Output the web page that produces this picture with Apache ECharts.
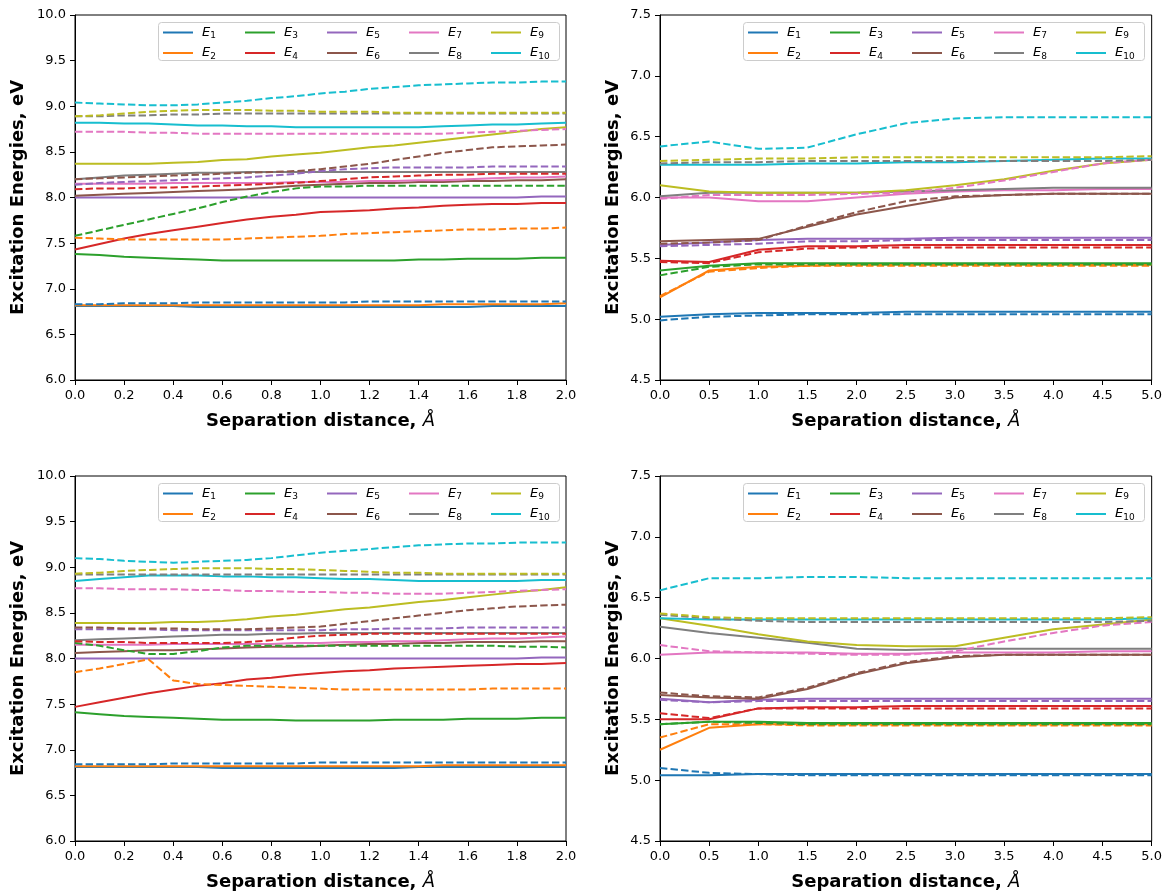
<!DOCTYPE html>
<html>
<head>
<meta charset="utf-8">
<script src="https://cdn.jsdelivr.net/npm/echarts@6/dist/echarts.min.js"></script>
<style>html,body{margin:0;padding:0;background:#fff}#c{width:1165px;height:892px}</style>
</head>
<body>
<div id="c"></div>
<script>
const xLeft = [0.0,0.1,0.2,0.3,0.4,0.5,0.6,0.7,0.8,0.9,1.0,1.1,1.2,1.3,1.4,1.5,1.6,1.7,1.8,1.9,2.0];
const xRight = [0.0,0.5,1.0,1.5,2.0,2.5,3.0,3.5,4.0,4.5,5.0];
const names = ['E1','E2','E3','E4','E5','E6','E7','E8','E9','E10'];
const yTicksLeft = [6.0,10.0,0.5];
const yTicksRight = [4.5,7.5,0.5];

const tlSolid = [
 [6.81,6.81,6.81,6.81,6.81,6.80,6.80,6.80,6.80,6.80,6.80,6.80,6.80,6.80,6.80,6.80,6.80,6.81,6.81,6.81,6.81],
 [6.82,6.82,6.82,6.82,6.82,6.82,6.82,6.82,6.82,6.82,6.82,6.82,6.82,6.82,6.82,6.83,6.83,6.83,6.83,6.83,6.84],
 [7.38,7.37,7.35,7.34,7.33,7.32,7.31,7.31,7.31,7.31,7.31,7.31,7.31,7.31,7.32,7.32,7.33,7.33,7.33,7.34,7.34],
 [7.43,7.49,7.55,7.60,7.64,7.68,7.72,7.76,7.79,7.81,7.84,7.85,7.86,7.88,7.89,7.91,7.92,7.93,7.93,7.94,7.94],
 [8.00,8.00,8.00,8.00,8.00,8.00,8.00,8.00,8.00,8.00,8.00,8.00,8.00,8.00,8.00,8.00,8.00,8.00,8.00,8.01,8.01],
 [8.02,8.03,8.04,8.05,8.06,8.07,8.08,8.09,8.11,8.13,8.14,8.15,8.16,8.16,8.17,8.17,8.18,8.18,8.19,8.19,8.20],
 [8.15,8.15,8.15,8.15,8.16,8.16,8.16,8.16,8.16,8.17,8.17,8.17,8.18,8.18,8.19,8.19,8.20,8.21,8.22,8.22,8.23],
 [8.20,8.22,8.24,8.25,8.26,8.27,8.27,8.28,8.28,8.28,8.28,8.28,8.28,8.28,8.28,8.28,8.28,8.28,8.28,8.28,8.28],
 [8.37,8.37,8.37,8.37,8.38,8.39,8.41,8.42,8.45,8.47,8.49,8.52,8.55,8.57,8.60,8.63,8.66,8.69,8.72,8.75,8.77],
 [8.82,8.82,8.81,8.81,8.80,8.79,8.79,8.78,8.78,8.77,8.77,8.77,8.77,8.77,8.77,8.78,8.79,8.80,8.80,8.81,8.82]
];
const tlDashed = [
 [6.83,6.83,6.84,6.84,6.84,6.85,6.85,6.85,6.85,6.85,6.85,6.85,6.86,6.86,6.86,6.86,6.86,6.86,6.86,6.86,6.86],
 [7.56,7.55,7.54,7.54,7.54,7.54,7.54,7.55,7.56,7.57,7.58,7.60,7.61,7.62,7.63,7.64,7.65,7.65,7.66,7.66,7.67],
 [7.58,7.64,7.70,7.76,7.82,7.88,7.95,8.01,8.06,8.10,8.12,8.12,8.13,8.13,8.13,8.13,8.13,8.13,8.13,8.13,8.13],
 [8.09,8.10,8.10,8.11,8.11,8.12,8.13,8.14,8.15,8.16,8.18,8.20,8.22,8.23,8.24,8.25,8.25,8.26,8.26,8.26,8.26],
 [8.14,8.16,8.17,8.18,8.19,8.20,8.21,8.22,8.24,8.26,8.29,8.31,8.32,8.33,8.33,8.33,8.33,8.34,8.34,8.34,8.34],
 [8.20,8.21,8.22,8.23,8.24,8.25,8.26,8.27,8.28,8.29,8.31,8.34,8.37,8.41,8.45,8.49,8.52,8.55,8.56,8.57,8.58],
 [8.72,8.72,8.72,8.71,8.71,8.70,8.70,8.70,8.70,8.70,8.70,8.70,8.70,8.70,8.70,8.70,8.71,8.72,8.73,8.74,8.75],
 [8.89,8.89,8.90,8.90,8.91,8.91,8.92,8.92,8.92,8.92,8.92,8.92,8.92,8.92,8.92,8.92,8.92,8.92,8.92,8.92,8.92],
 [8.89,8.90,8.92,8.94,8.95,8.96,8.96,8.96,8.95,8.95,8.94,8.94,8.94,8.93,8.93,8.93,8.93,8.93,8.93,8.93,8.93],
 [9.04,9.03,9.02,9.01,9.01,9.02,9.04,9.06,9.09,9.11,9.14,9.16,9.19,9.21,9.23,9.24,9.25,9.26,9.26,9.27,9.27]
];
const trSolid = [
 [5.02,5.04,5.05,5.05,5.05,5.06,5.06,5.06,5.06,5.06,5.06],
 [5.18,5.40,5.43,5.44,5.45,5.45,5.45,5.45,5.45,5.45,5.45],
 [5.40,5.44,5.46,5.46,5.46,5.46,5.46,5.46,5.46,5.46,5.46],
 [5.48,5.47,5.57,5.60,5.60,5.61,5.61,5.61,5.61,5.61,5.61],
 [5.61,5.63,5.65,5.66,5.66,5.66,5.67,5.67,5.67,5.67,5.67],
 [5.64,5.65,5.66,5.76,5.86,5.93,6.00,6.02,6.03,6.03,6.03],
 [6.00,6.00,5.97,5.97,6.00,6.03,6.05,6.06,6.06,6.07,6.07],
 [6.01,6.04,6.04,6.04,6.04,6.05,6.06,6.07,6.08,6.08,6.08],
 [6.10,6.05,6.04,6.04,6.04,6.06,6.10,6.15,6.22,6.28,6.31],
 [6.27,6.27,6.27,6.28,6.28,6.29,6.29,6.30,6.31,6.32,6.32]
];
const trDashed = [
 [4.99,5.02,5.03,5.04,5.04,5.04,5.04,5.04,5.04,5.04,5.04],
 [5.19,5.39,5.42,5.44,5.44,5.44,5.44,5.44,5.44,5.44,5.44],
 [5.36,5.43,5.45,5.45,5.45,5.45,5.45,5.45,5.45,5.45,5.45],
 [5.47,5.46,5.55,5.58,5.59,5.59,5.59,5.59,5.59,5.59,5.59],
 [5.60,5.61,5.62,5.64,5.64,5.65,5.65,5.65,5.65,5.65,5.65],
 [5.62,5.63,5.65,5.77,5.88,5.97,6.01,6.02,6.03,6.03,6.03],
 [5.99,6.02,6.02,6.02,6.03,6.04,6.08,6.14,6.21,6.28,6.31],
 [6.28,6.29,6.29,6.30,6.30,6.30,6.30,6.30,6.30,6.30,6.31],
 [6.30,6.31,6.32,6.32,6.33,6.33,6.33,6.33,6.33,6.33,6.34],
 [6.42,6.46,6.40,6.41,6.52,6.61,6.65,6.66,6.66,6.66,6.66]
];
const blSolid = [
 [6.81,6.81,6.81,6.81,6.81,6.81,6.80,6.80,6.80,6.80,6.80,6.80,6.80,6.80,6.81,6.81,6.81,6.81,6.81,6.81,6.81],
 [6.82,6.82,6.82,6.82,6.82,6.82,6.82,6.82,6.82,6.82,6.82,6.82,6.82,6.82,6.82,6.83,6.83,6.83,6.83,6.83,6.83],
 [7.41,7.39,7.37,7.36,7.35,7.34,7.33,7.33,7.33,7.32,7.32,7.32,7.32,7.33,7.33,7.33,7.34,7.34,7.34,7.35,7.35],
 [7.47,7.52,7.57,7.62,7.66,7.70,7.73,7.77,7.79,7.82,7.84,7.86,7.87,7.89,7.90,7.91,7.92,7.93,7.94,7.94,7.95],
 [8.00,8.00,8.00,8.00,8.00,8.00,8.00,8.00,8.00,8.00,8.00,8.00,8.00,8.00,8.00,8.00,8.00,8.00,8.00,8.01,8.01],
 [8.06,8.07,8.08,8.09,8.09,8.10,8.11,8.12,8.13,8.13,8.14,8.15,8.16,8.16,8.17,8.17,8.18,8.18,8.18,8.19,8.19],
 [8.15,8.15,8.15,8.15,8.16,8.16,8.16,8.16,8.16,8.17,8.17,8.18,8.18,8.19,8.19,8.20,8.21,8.22,8.22,8.23,8.24],
 [8.20,8.21,8.22,8.23,8.24,8.25,8.26,8.26,8.27,8.27,8.28,8.28,8.28,8.28,8.28,8.28,8.28,8.28,8.28,8.28,8.28],
 [8.39,8.39,8.39,8.39,8.40,8.40,8.41,8.43,8.46,8.48,8.51,8.54,8.56,8.59,8.62,8.64,8.67,8.70,8.73,8.75,8.78],
 [8.85,8.87,8.89,8.91,8.91,8.91,8.90,8.90,8.89,8.89,8.88,8.87,8.87,8.86,8.85,8.85,8.85,8.85,8.85,8.86,8.86]
];
const blDashed = [
 [6.84,6.84,6.84,6.84,6.85,6.85,6.85,6.85,6.85,6.85,6.86,6.86,6.86,6.86,6.86,6.86,6.86,6.86,6.86,6.86,6.86],
 [7.85,7.89,7.94,7.99,7.76,7.72,7.71,7.70,7.69,7.68,7.67,7.66,7.66,7.66,7.66,7.66,7.66,7.67,7.67,7.67,7.67],
 [8.17,8.14,8.09,8.05,8.05,8.08,8.12,8.14,8.14,8.14,8.14,8.14,8.14,8.14,8.14,8.14,8.14,8.14,8.13,8.13,8.12],
 [8.19,8.18,8.18,8.17,8.17,8.17,8.17,8.18,8.20,8.23,8.25,8.26,8.27,8.27,8.27,8.27,8.27,8.27,8.27,8.27,8.27],
 [8.32,8.32,8.32,8.32,8.31,8.31,8.31,8.31,8.31,8.31,8.31,8.32,8.32,8.33,8.33,8.33,8.34,8.34,8.34,8.34,8.34],
 [8.34,8.34,8.33,8.33,8.33,8.32,8.32,8.32,8.33,8.34,8.35,8.38,8.41,8.44,8.47,8.50,8.53,8.55,8.57,8.58,8.59],
 [8.77,8.77,8.76,8.76,8.76,8.75,8.75,8.74,8.74,8.73,8.73,8.72,8.72,8.71,8.71,8.71,8.72,8.73,8.74,8.75,8.76],
 [8.92,8.92,8.92,8.92,8.92,8.92,8.92,8.92,8.92,8.92,8.92,8.92,8.92,8.92,8.92,8.92,8.92,8.92,8.92,8.92,8.92],
 [8.93,8.94,8.96,8.97,8.98,8.99,8.99,8.99,8.98,8.98,8.97,8.96,8.95,8.94,8.94,8.93,8.93,8.93,8.93,8.93,8.93],
 [9.10,9.09,9.07,9.06,9.05,9.06,9.07,9.08,9.10,9.13,9.16,9.18,9.20,9.22,9.24,9.25,9.26,9.26,9.27,9.27,9.27]
];
const brSolid = [
 [5.04,5.04,5.05,5.05,5.05,5.05,5.05,5.05,5.05,5.05,5.05],
 [5.25,5.43,5.46,5.46,5.46,5.46,5.46,5.46,5.46,5.46,5.46],
 [5.46,5.48,5.48,5.47,5.47,5.47,5.47,5.47,5.47,5.47,5.47],
 [5.50,5.50,5.59,5.60,5.60,5.61,5.61,5.61,5.61,5.61,5.61],
 [5.67,5.64,5.66,5.67,5.67,5.67,5.67,5.67,5.67,5.67,5.67],
 [5.70,5.68,5.67,5.75,5.87,5.96,6.01,6.03,6.03,6.03,6.03],
 [6.03,6.05,6.05,6.05,6.04,6.04,6.05,6.05,6.05,6.06,6.06],
 [6.26,6.21,6.17,6.13,6.08,6.07,6.08,6.08,6.08,6.08,6.08],
 [6.33,6.27,6.20,6.14,6.11,6.10,6.10,6.17,6.24,6.28,6.32],
 [6.33,6.32,6.32,6.32,6.32,6.32,6.32,6.32,6.32,6.32,6.33]
];
const brDashed = [
 [5.10,5.06,5.05,5.04,5.04,5.04,5.04,5.04,5.04,5.04,5.04],
 [5.35,5.46,5.46,5.45,5.45,5.45,5.45,5.45,5.45,5.45,5.45],
 [5.46,5.48,5.47,5.46,5.46,5.46,5.46,5.46,5.46,5.46,5.46],
 [5.55,5.51,5.59,5.59,5.59,5.59,5.59,5.59,5.59,5.59,5.59],
 [5.66,5.64,5.65,5.65,5.65,5.65,5.65,5.65,5.65,5.65,5.65],
 [5.72,5.69,5.68,5.76,5.88,5.97,6.02,6.03,6.03,6.03,6.03],
 [6.11,6.06,6.05,6.04,6.03,6.03,6.06,6.14,6.21,6.27,6.30],
 [6.36,6.33,6.31,6.30,6.30,6.30,6.30,6.30,6.30,6.30,6.31],
 [6.37,6.34,6.33,6.33,6.33,6.33,6.33,6.33,6.33,6.33,6.34],
 [6.56,6.66,6.66,6.67,6.67,6.66,6.66,6.66,6.66,6.66,6.66]
];

const colors = ['#1f77b4','#ff7f0e','#2ca02c','#d62728','#9467bd','#8c564b','#e377c2','#7f7f7f','#bcbd22','#17becf'];
const FONT = 'DejaVu Sans';

const panels = [
  {grid:{left:75, top:15, width:491, height:365}, x:xLeft, xmax:2, xint:0.2, y:yTicksLeft, solid:tlSolid, dashed:tlDashed, ygap:48},
  {grid:{left:660, top:15, width:493, height:365}, x:xRight, xmax:5, xint:0.5, y:yTicksRight, solid:trSolid, dashed:trDashed, ygap:38},
  {grid:{left:75, top:476, width:491, height:365}, x:xLeft, xmax:2, xint:0.2, y:yTicksLeft, solid:blSolid, dashed:blDashed, ygap:48},
  {grid:{left:660, top:476, width:493, height:365}, x:xRight, xmax:5, xint:0.5, y:yTicksRight, solid:brSolid, dashed:brDashed, ygap:38}
];

const grids = [], xAxes = [], yAxes = [], series = [], legends = [], graphics = [];
panels.forEach((p, pi) => {
  grids.push(Object.assign({show:true, borderColor:'#000', borderWidth:1, backgroundColor:'transparent'}, p.grid));
  xAxes.push({
    type:'value', gridIndex:pi, min:0, max:p.xmax, interval:p.xint,
    axisLine:{show:true, onZero:false, lineStyle:{color:'#000', width:1}},
    axisTick:{show:true, length:5, lineStyle:{color:'#000'}},
    splitLine:{show:false},
    axisLabel:{color:'#000', fontFamily:FONT, fontSize:13, margin:9, formatter:v=>v.toFixed(1)},
    name:'{n|Separation distance, }{i|Å}', nameLocation:'middle', nameGap:32,
    nameTextStyle:{rich:{
      n:{fontFamily:FONT, fontWeight:'bold', fontSize:18, color:'#000'},
      i:{fontFamily:FONT, fontStyle:'italic', fontSize:18, color:'#000'}
    }}
  });
  yAxes.push({
    type:'value', gridIndex:pi, min:p.y[0], max:p.y[1], interval:p.y[2],
    axisLine:{show:true, onZero:false, lineStyle:{color:'#000', width:1}},
    axisTick:{show:true, length:5, lineStyle:{color:'#000'}},
    splitLine:{show:false},
    axisLabel:{color:'#000', fontFamily:FONT, fontSize:13, margin:9, formatter:v=>v.toFixed(1)},
    name:'Excitation Energies, eV', nameLocation:'middle', nameGap:p.ygap, nameRotate:90,
    nameTextStyle:{fontFamily:FONT, fontWeight:'bold', fontSize:18, color:'#000'}
  });
  for (let i = 0; i < 10; i++) {
    series.push({
      type:'line', name:names[i], xAxisIndex:pi, yAxisIndex:pi,
      data:p.x.map((xv, k) => [xv, p.solid[i][k]]),
      symbol:'none', color:colors[i], lineStyle:{width:2, color:colors[i]},
      animation:false, z:2
    });
  }
  for (let i = 0; i < 10; i++) {
    series.push({
      type:'line', name:names[i] + ' dashed', xAxisIndex:pi, yAxisIndex:pi,
      data:p.x.map((xv, k) => [xv, p.dashed[i][k]]),
      symbol:'none', color:colors[i], lineStyle:{width:2, color:colors[i], type:[7.4, 3.2]},
      animation:false, z:2
    });
  }
  const gl = p.grid.left, gt = p.grid.top;
  graphics.push({type:'rect', left:gl + 83, top:gt + 7, z:3,
    shape:{width:401, height:38, r:3},
    style:{fill:'rgba(255,255,255,0.8)', stroke:'#cccccc', lineWidth:1}});
  for (let c = 0; c < 5; c++) {
    legends.push({
      orient:'vertical', left:gl + 88 + 82 * c, top:gt + 11, padding:0,
      itemWidth:30, itemHeight:2, itemGap:6, icon:'rect', selectedMode:false,
      itemStyle:{borderWidth:0},
      data:[names[2*c], names[2*c+1]],
      formatter: n => '{e|E}{s|' + n.slice(1) + '}',
      textStyle:{color:'#000', fontFamily:FONT, fontSize:13, padding:[0,0,0,4], rich:{
        e:{fontFamily:FONT, fontStyle:'italic', fontSize:13, lineHeight:16, color:'#000'},
        s:{fontFamily:FONT, fontSize:9, lineHeight:9, verticalAlign:'bottom', color:'#000'}
      }}
    });
  }
});

const chart = echarts.init(document.getElementById('c'), null, {renderer:'canvas'});
chart.setOption({
  animation:false,
  backgroundColor:'#fff',
  grid:grids, xAxis:xAxes, yAxis:yAxes, series:series, legend:legends,
  graphic:{elements:graphics}
});
</script>
</body>
</html>
